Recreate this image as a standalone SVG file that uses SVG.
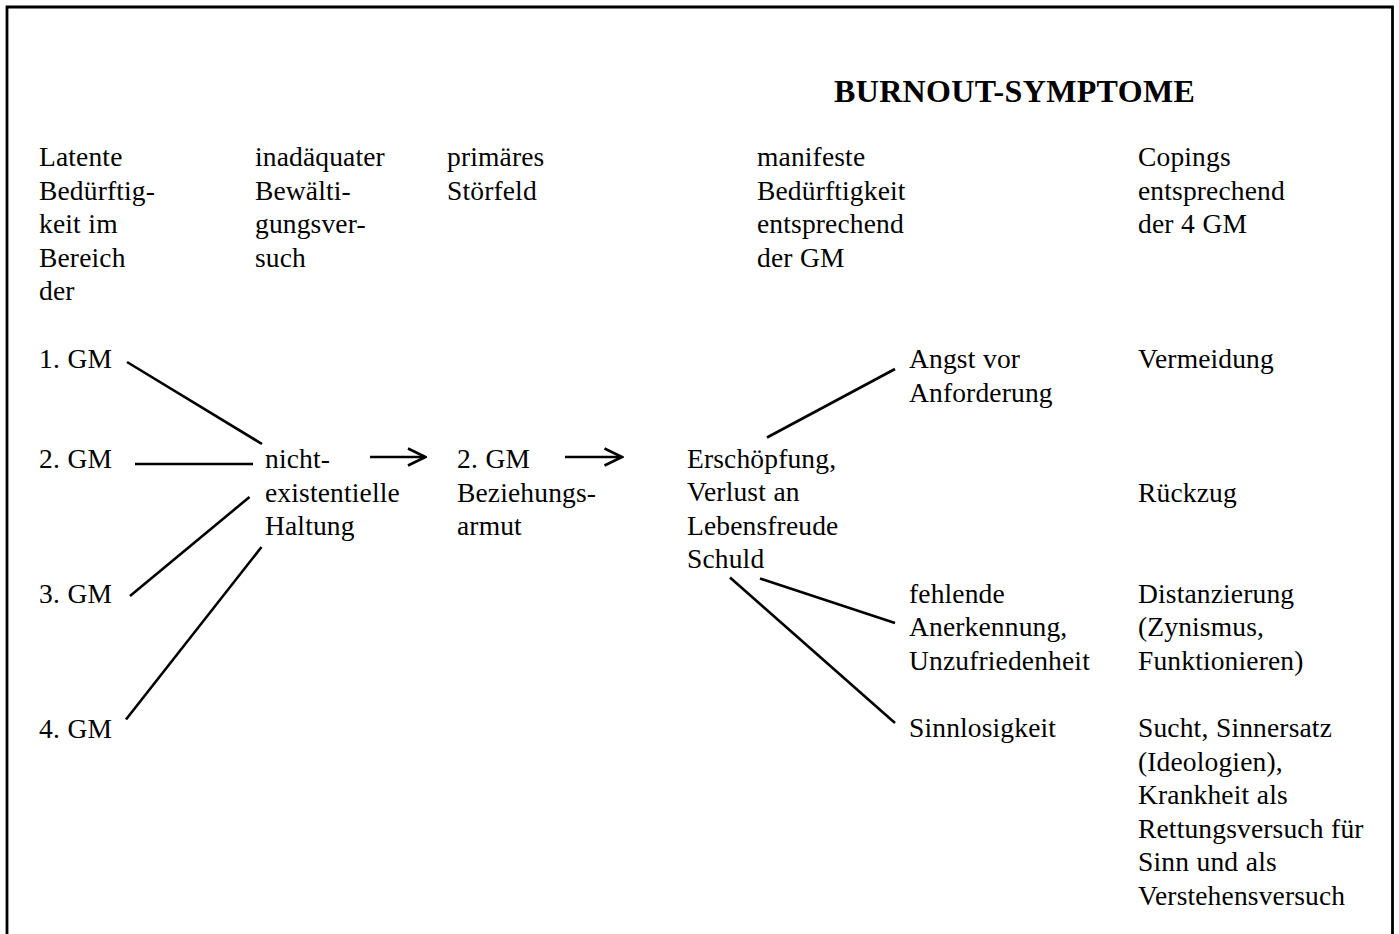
<svg xmlns="http://www.w3.org/2000/svg" width="1399" height="934" viewBox="0 0 1399 934">
<style>
text{font-family:"Liberation Serif","Times New Roman",serif;font-size:27.5px;letter-spacing:0.15px;word-spacing:0.5px;fill:#000}
.title{font-size:32px;font-weight:bold;letter-spacing:0.35px}
.ln{stroke:#000;stroke-width:2.6;fill:none;stroke-linecap:butt}
</style>
<defs>
<marker id="arr" viewBox="0 0 20 20" refX="18" refY="10" markerWidth="20" markerHeight="20" markerUnits="userSpaceOnUse" orient="auto">
<path d="M1,1.5 L18.5,10 L1,18.5" fill="none" stroke="#000" stroke-width="2.6"/>
</marker>
</defs>
<rect width="1399" height="934" fill="#fff"/>
<path d="M7,934 V7 H1392.5 V934" fill="none" stroke="#000" stroke-width="2.8"/>
<g id="title"><text class="title" x="834" y="102">BURNOUT-SYMPTOME</text></g>
<g id="head1"><text x="39" y="166">Latente</text><text x="39" y="199.5">Bedürftig-</text><text x="39" y="233">keit im</text><text x="39" y="266.5">Bereich</text><text x="39" y="300">der</text></g>
<g id="head2"><text x="255" y="166">inadäquater</text><text x="255" y="199.5">Bewälti-</text><text x="255" y="233">gungsver-</text><text x="255" y="266.5">such</text></g>
<g id="head3"><text x="447" y="166">primäres</text><text x="447" y="199.5">Störfeld</text></g>
<g id="head4"><text x="757" y="166">manifeste</text><text x="757" y="199.5">Bedürftigkeit</text><text x="757" y="233">entsprechend</text><text x="757" y="266.5">der GM</text></g>
<g id="head5"><text x="1138" y="166">Copings</text><text x="1138" y="199.5">entsprechend</text><text x="1138" y="233">der 4 GM</text></g>
<g id="gm1"><text x="39" y="368">1. GM</text></g>
<g id="gm2"><text x="39" y="468">2. GM</text></g>
<g id="gm3"><text x="39" y="602.5">3. GM</text></g>
<g id="gm4"><text x="39" y="737.5">4. GM</text></g>
<g id="haltung"><text x="265" y="468">nicht-</text><text x="265" y="501.5">existentielle</text><text x="265" y="535">Haltung</text></g>
<g id="stoerfeld"><text x="457" y="468">2. GM</text><text x="457" y="501.5">Beziehungs-</text><text x="457" y="535">armut</text></g>
<g id="erschoepfung"><text x="687" y="467.5">Erschöpfung,</text><text x="687" y="501">Verlust an</text><text x="687" y="534.5">Lebensfreude</text><text x="687" y="568">Schuld</text></g>
<g id="angst"><text x="909" y="368">Angst vor</text><text x="909" y="401.5">Anforderung</text></g>
<g id="fehlende"><text x="909" y="602.5">fehlende</text><text x="909" y="636">Anerkennung,</text><text x="909" y="669.5">Unzufriedenheit</text></g>
<g id="sinnlos"><text x="909" y="737">Sinnlosigkeit</text></g>
<g id="vermeidung"><text x="1138" y="368">Vermeidung</text></g>
<g id="rueckzug"><text x="1138" y="501.5">Rückzug</text></g>
<g id="distanz"><text x="1138" y="602.5">Distanzierung</text><text x="1138" y="636">(Zynismus,</text><text x="1138" y="669.5">Funktionieren)</text></g>
<g id="sucht"><text x="1138" y="737">Sucht, Sinnersatz</text><text x="1138" y="770.5">(Ideologien),</text><text x="1138" y="804">Krankheit als</text><text x="1138" y="837.5">Rettungsversuch für</text><text x="1138" y="871">Sinn und als</text><text x="1138" y="904.5">Verstehensversuch</text></g>
<g id="connectors">
<line class="ln" x1="127" y1="362" x2="262" y2="444"/>
<line class="ln" x1="135" y1="464" x2="253" y2="464"/>
<line class="ln" x1="130" y1="596" x2="249.5" y2="497"/>
<line class="ln" x1="126" y1="719.5" x2="261.5" y2="547"/>
<line class="ln" x1="370" y1="457" x2="425" y2="457" marker-end="url(#arr)"/>
<line class="ln" x1="565" y1="457" x2="621.5" y2="457" marker-end="url(#arr)"/>
<line class="ln" x1="767" y1="437.5" x2="895" y2="369"/>
<line class="ln" x1="760" y1="578.5" x2="895" y2="623"/>
<line class="ln" x1="730" y1="577.5" x2="895" y2="723"/>
</g>
</svg>
